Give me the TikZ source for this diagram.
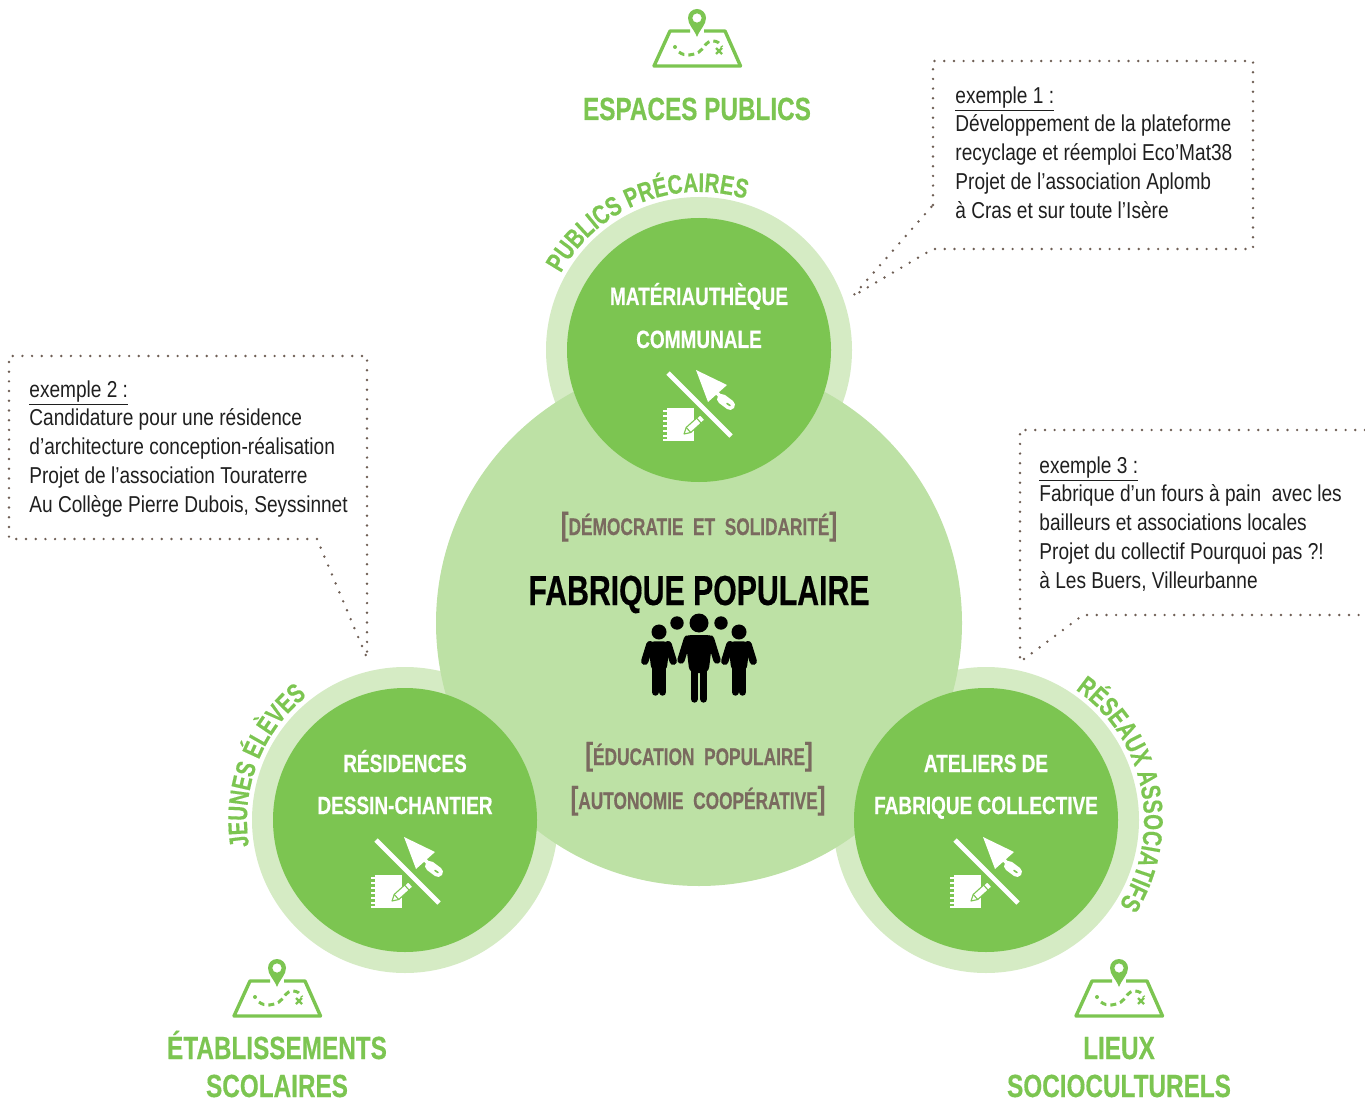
\documentclass[tikz,border=0pt]{standalone}
\usepackage{fontspec}
\usetikzlibrary{decorations.text}
\setmainfont{Liberation Sans}
\newfontfamily\bodyfam[FakeStretch=0.83]{Liberation Sans}
\newfontfamily\boldfam[FakeStretch=0.76,FakeBold=0.4]{Liberation Sans Bold}
\newfontfamily\boldnarrow[FakeStretch=0.72,FakeBold=0.4]{Liberation Sans Bold}
\definecolor{mygreen}{HTML}{7CC551}
\definecolor{ringgreen}{HTML}{D5EBC4}
\definecolor{biggreen}{HTML}{BDE1A5}
\definecolor{browngrey}{HTML}{7A6A5F}
\definecolor{dotbrown}{HTML}{6E5E54}
\newcommand{\arcfontA}{\boldfam\fontsize{13.5}{14}\selectfont\color{mygreen}}
\newcommand{\brk}[1]{{\fontsize{16}{16}\selectfont #1}}
\tikzset{
  x=0.5pt,y=0.5pt,
  ring/.style={fill=ringgreen,draw=none},
  inner/.style={fill=mygreen,draw=none},
  dotline/.style={draw=dotbrown,line width=1.35pt,line cap=round,line join=round,dash pattern=on 0pt off 4.85pt},
  exampletext/.style={anchor=north west,inner sep=0pt,align=left,text=black!88,font=\bodyfam\fontsize{11.5}{14.4}\selectfont},
  titletext/.style={anchor=base,inner sep=0pt,text=mygreen,font=\boldfam\fontsize{16}{19}\selectfont},
  whitetext/.style={anchor=base,inner sep=0pt,text=white,font=\boldfam\fontsize{12.5}{15}\selectfont},
  bracktext/.style={anchor=base,inner sep=0pt,text=browngrey,font=\boldnarrow\fontsize{12}{15}\selectfont},
  mapicon/.pic={
    \draw[mygreen,line width=1.7pt,line join=round] (-7,-13) -- (-27,-13) -- (-43,-48) -- (43.5,-48) -- (28,-13) -- (7,-13);
    \fill[mygreen,even odd rule] (0,-19) .. controls (-3,-11) and (-9,-7) .. (-9,0) arc (180:0:9) .. controls (9,-7) and (3,-11) .. (0,-19) -- cycle (0,0) circle (4.7);
    \fill[mygreen] (-22,-29) circle (2);
    \draw[mygreen,line width=1.5pt,dash pattern=on 3pt off 2pt] (-18,-34) .. controls (-12,-39) and (-3,-37) .. (2,-34) .. controls (8,-30) and (8,-23) .. (16,-23) .. controls (20,-23) and (23,-25) .. (25,-29);
    \draw[mygreen,line width=1.1pt] (19,-30) -- (25,-36) (19,-36) -- (25,-30);
  },
  toolicon/.pic={
    \draw[white,line width=2.4pt] (-31,32) -- (32,-31);
    \fill[white] (-3,35) -- (28,20) -- (9,3) -- cycle;
    \draw[white,line width=1.8pt] (17,13) -- (22,8);
    \draw[white,line width=5pt,line cap=round] (23,6) -- (31,0);
    \draw[mygreen,line width=0.8pt,line cap=round] (28,1.5) -- (31,-0.5);
    \fill[white] (-32,-3) rectangle (-5,-36);
    \foreach \ty in {-6,-11,-16,-21,-26,-31,-35}{\draw[white,line width=0.7pt] (-36,\ty) -- (-32,\ty);}
    \begin{scope}[shift={(-15,-29)},rotate=42]
      \draw[fill=white,draw=mygreen,line width=0.55pt,line join=round] (0,0) -- (6,-3.4) -- (25,-3.4) -- (25,3.4) -- (6,3.4) -- cycle;
      \draw[mygreen,line width=0.55pt] (6,-3.4) -- (6,3.4) (20,-3.4) -- (20,3.4);
    \end{scope}
  },
  personfig/.pic={
    \fill[black] (0,0) circle (9.5);
    \fill[black,rounded corners=3pt] (-14,-12) -- (14,-12) -- (9.5,-50) -- (-9.5,-50) -- cycle;
    \draw[black,line width=3.7pt,line cap=round] (-11.5,-16) -- (-18,-37) (11.5,-16) -- (18,-37);
    \draw[black,line width=3.7pt,line cap=round] (-4.7,-40) -- (-4.7,-76) (4.7,-40) -- (4.7,-76);
  }
}
\begin{document}
\begin{tikzpicture}
\useasboundingbox (0,0) rectangle (1365,-1101);
\fill[ring] (699,-350) circle (153);
\fill[ring] (405,-820) circle (153);
\fill[ring] (986,-820) circle (153);
\fill[biggreen] (699,-623) circle (263);
\fill[inner] (699,-350) circle (132);
\fill[inner] (405,-820) circle (132);
\fill[inner] (986,-820) circle (132);
\path[decorate,decoration={text along path,text align=fit to path,text={|\arcfontA|PUBLICS PRÉCAIRES}}]
  (699,-350) ++(151:158) arc (151:73:158);
\path[decorate,decoration={text along path,text align=fit to path,text={|\arcfontA|JEUNES  ÉLÈVES}}]
  (405,-820) ++(189.5:158) arc (189.5:130:158);
\path[decorate,decoration={text along path,text align=fit to path,text={|\arcfontA|RÉSEAUX ASSOCIATIFS}}]
  (986,-820) ++(55.5:158) arc (55.5:-31:158);
\draw[dotline] (933,-205) -- (933,-61) -- (1253,-61) -- (1253,-249) -- (933,-249) -- (853,-296) -- cycle;
\draw[dotline] (317,-539) -- (9,-539) -- (9,-356) -- (367,-356) -- (367,-658) -- cycle;
\draw[dotline] (1365,-430) -- (1020,-430) -- (1020,-662) -- (1083,-615) -- (1365,-615);
\node[exampletext] (exA) at (955,-86) {\underline{exemple 1 :}\\Développement de la plateforme\\recyclage et réemploi Eco’Mat38\\Projet de l’association Aplomb\\à Cras et sur toute l’Isère};
\node[exampletext] (exB) at (29,-380) {\underline{exemple 2 :}\\Candidature pour une résidence\\d’architecture conception-réalisation\\Projet de l’association Touraterre\\Au Collège Pierre Dubois, Seyssinnet};
\node[exampletext] (exC) at (1039,-456) {\underline{exemple 3 :}\\Fabrique d’un fours à pain~ avec les\\bailleurs et associations locales\\Projet du collectif Pourquoi pas ?!\\à Les Buers, Villeurbanne};
\node[titletext] (tA) at (697,-120) {ESPACES PUBLICS};
\node[titletext] (tB1) at (277,-1059) {ÉTABLISSEMENTS};
\node[titletext] (tB2) at (277,-1097) {SCOLAIRES};
\node[titletext] (tC1) at (1119,-1059) {LIEUX};
\node[titletext] (tC2) at (1119,-1097) {SOCIOCULTURELS};
\pic (mapA) at (697,-18) {mapicon};
\pic (mapB) at (277,-968) {mapicon};
\pic (mapC) at (1119,-968) {mapicon};
\node[whitetext] (wA1) at (699,-305) {MATÉRIAUTHÈQUE};
\node[whitetext] (wA2) at (699,-348) {COMMUNALE};
\node[whitetext] (wB1) at (405,-772) {RÉSIDENCES};
\node[whitetext] (wB2) at (405,-814) {DESSIN-CHANTIER};
\node[whitetext] (wC1) at (986,-772) {ATELIERS DE};
\node[whitetext] (wC2) at (986,-814) {FABRIQUE COLLECTIVE};
\pic (toolA) at (699,-405) {toolicon};
\pic (toolB) at (407,-872) {toolicon};
\pic (toolC) at (986,-872) {toolicon};
\node[bracktext] (bA) at (699,-535) {\brk{[}DÉMOCRATIE~ ET~ SOLIDARITÉ\brk{]}};
\node[bracktext] (bB) at (699,-765) {\brk{[}ÉDUCATION~ POPULAIRE\brk{]}};
\node[bracktext] (bC) at (698,-809) {\brk{[}AUTONOMIE~ COOPÉRATIVE\brk{]}};
\node[anchor=base,inner sep=0pt,text=black,font=\boldnarrow\fontsize{21}{22}\selectfont] (fab) at (699,-605) {FABRIQUE POPULAIRE};
\pic (pC) at (699,-623) {personfig};
\pic[scale=0.79] (pL) at (659,-632) {personfig};
\pic[scale=0.79] (pR) at (739,-632) {personfig};
\fill[black] (677,-623) circle (6.7);
\fill[black] (721,-623) circle (6.7);
\end{tikzpicture}
\end{document}
